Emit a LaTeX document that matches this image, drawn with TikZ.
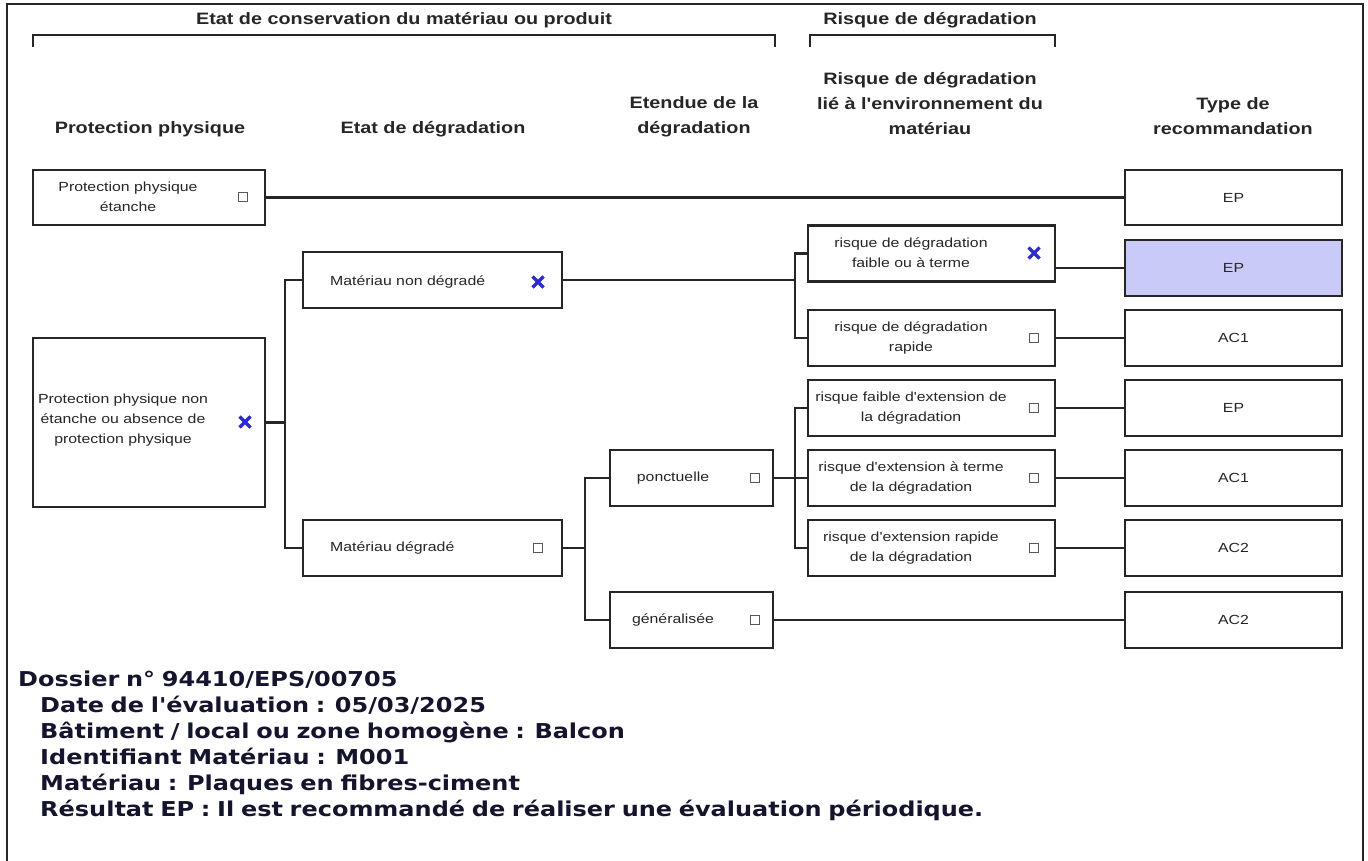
\documentclass[tikz,border=0pt]{standalone}
\usepackage{fontspec}
\setmainfont{Liberation Sans}
\newfontfamily\boxfont{Liberation Sans}[FakeStretch=1.2]
\newfontfamily\headfont{Liberation Sans}[FakeStretch=1.2]
\newfontfamily\footfont{DejaVu Sans}[FakeStretch=1.17, WordSpace=0.8]
\definecolor{linec}{HTML}{262626}
\definecolor{xblue}{HTML}{2A2AD8}
\definecolor{sel}{HTML}{CACAF8}
\definecolor{footc}{HTML}{14142E}
\tikzset{
  box/.style={draw=linec, line width=2.4, fill=white, inner sep=0},
  conn/.style={draw=linec, line width=2.4},
  btxt/.style={font=\boxfont\fontsize{13.2}{20}\selectfont, align=center, inner sep=0, text=linec},
  htxt/.style={font=\headfont\bfseries\fontsize{16.5}{25}\selectfont, align=center, inner sep=0, text=linec},
  ftxt/.style={font=\footfont\bfseries\fontsize{20.5}{26}\selectfont, anchor=base west, inner sep=0, text=footc},
  cbox/.style={draw=black!65, line width=1.5, minimum size=9, inner sep=0},
  xm/.pic={\draw[xblue, line width=3.2] (-5.5,-5.5)--(5.5,5.5) (-5.5,5.5)--(5.5,-5.5);}
}
\begin{document}
\begin{tikzpicture}[x=1pt,y=-1pt]
\useasboundingbox (0,0) rectangle (1368,861);
% frame
\draw[linec, line width=2.2] (7,861)--(7,4)--(1363,4)--(1363,861);
% brackets
\node[htxt] (t1) at (404,20) {Etat de conservation du matériau ou produit};
\node[htxt] (t2) at (930,20) {Risque de dégradation};
\draw[conn] (33,47)--(33,35)--(775,35)--(775,47);
\draw[conn] (810,47)--(810,35)--(1055,35)--(1055,47);
% column headers
\node[htxt] (h1) at (150,129) {Protection physique};
\node[htxt] (h2) at (433,129) {Etat de dégradation};
\node[htxt] (h3) at (694,116.5) {Etendue de la\\dégradation};
\node[htxt] (h4) at (930,104) {Risque de dégradation\\lié à l'environnement du\\matériau};
\node[htxt] (h5) at (1233,116.5) {Type de\\recommandation};
% boxes
\node[box, minimum width=232, minimum height=55] (ppe) at (149,197.5) {};
\node[box, minimum width=232, minimum height=169] (ppne) at (149,422.5) {};
\node[box, minimum width=259, minimum height=56] (mnd) at (432.5,280) {};
\node[box, minimum width=259, minimum height=56] (md) at (432.5,548) {};
\node[box, minimum width=163, minimum height=56] (pon) at (691.5,478) {};
\node[box, minimum width=163, minimum height=56] (gen) at (691.5,620) {};
\node[box, minimum width=247, minimum height=56] (r1) at (931.5,253.5) {};
\node[box, minimum width=247, minimum height=56] (r2) at (931.5,338) {};
\node[box, minimum width=247, minimum height=56] (r3) at (931.5,408) {};
\node[box, minimum width=247, minimum height=56] (r4) at (931.5,478) {};
\node[box, minimum width=247, minimum height=56] (r5) at (931.5,548) {};
\node[box, minimum width=217, minimum height=55] (ep1) at (1233.5,197.5) {};
\node[box, minimum width=217, minimum height=56, fill=sel] (ep2) at (1233.5,268) {};
\node[box, minimum width=217, minimum height=56] (ac1) at (1233.5,338) {};
\node[box, minimum width=217, minimum height=56] (ep3) at (1233.5,408) {};
\node[box, minimum width=217, minimum height=56] (ac1b) at (1233.5,478) {};
\node[box, minimum width=217, minimum height=56] (ac2) at (1233.5,548) {};
\node[box, minimum width=217, minimum height=56] (ac2b) at (1233.5,620) {};
% box texts
\node[btxt] (tppe) at (128,197) {Protection physique\\étanche};
\node[btxt] (tppne) at (123,420) {Protection physique non\\étanche ou absence de\\protection physique};
\node[btxt, anchor=west] (tmnd) at (330,282) {Matériau non dégradé};
\node[btxt, anchor=west] (tmd) at (330,548) {Matériau dégradé};
\node[btxt] (tpon) at (673,478) {ponctuelle};
\node[btxt] (tgen) at (673,620) {généralisée};
\node[btxt] (tr1) at (911,253) {risque de dégradation\\faible ou à terme};
\node[btxt] (tr2) at (911,338) {risque de dégradation\\rapide};
\node[btxt] (tr3) at (911,408) {risque faible d'extension de\\la dégradation};
\node[btxt] (tr4) at (911,478) {risque d'extension à terme\\de la dégradation};
\node[btxt] (tr5) at (911,548) {risque d'extension rapide\\de la dégradation};
\node[btxt] (tep1) at (1233.5,197.5) {EP};
\node[btxt] (tep2) at (1233.5,268) {EP};
\node[btxt] (tac1) at (1233.5,338) {AC1};
\node[btxt] (tep3) at (1233.5,408) {EP};
\node[btxt] (tac1b) at (1233.5,478) {AC1};
\node[btxt] (tac2) at (1233.5,548) {AC2};
\node[btxt] (tac2b) at (1233.5,620) {AC2};
% checkboxes and marks
\node[cbox] (c1) at (243,197) {};
\node[cbox] (c2) at (538,548) {};
\node[cbox] (c3) at (755,478) {};
\node[cbox] (c4) at (755,620) {};
\node[cbox] (c5) at (1034,338) {};
\node[cbox] (c6) at (1034,408) {};
\node[cbox] (c7) at (1034,478) {};
\node[cbox] (c8) at (1034,548) {};
\pic at (245,422) {xm};
\pic at (538,282) {xm};
\pic at (1034,253) {xm};
% junctions
\coordinate (j1) at (285,422.5);
\coordinate (j2) at (795,280);
\coordinate (j3) at (585,548);
\coordinate (j4) at (795,478);
% connectors
\draw[conn] (ppe.east) -- (ep1.west);
\draw[conn] (ppne.east) -- (j1);
\draw[conn] (mnd.west) -| (j1);
\draw[conn] (md.west) -| (j1);
\draw[conn] (mnd.east) -- (j2);
\draw[conn] (r1.west) -| (j2);
\draw[conn] (r2.west) -| (j2);
\draw[conn] (r1.east |- ep2.west) -- (ep2.west);
\draw[conn] (r2.east) -- (ac1.west);
\draw[conn] (md.east) -- (j3);
\draw[conn] (pon.west) -| (j3);
\draw[conn] (gen.west) -| (j3);
\draw[conn] (pon.east) -- (j4);
\draw[conn] (r3.west) -| (j4);
\draw[conn] (r4.west) -| (j4);
\draw[conn] (r5.west) -| (j4);
\draw[conn] (r3.east) -- (ep3.west);
\draw[conn] (r4.east) -- (ac1b.west);
\draw[conn] (r5.east) -- (ac2.west);
\draw[conn] (gen.east) -- (ac2b.west);
% footer
\node[ftxt] (f1) at (18,686) {Dossier n° 94410/EPS/00705};
\node[ftxt] (f2) at (40,712) {Date de l'évaluation : 05/03/2025};
\node[ftxt] (f3) at (40,738) {Bâtiment / local ou zone homogène : Balcon};
\node[ftxt] (f4) at (40,764) {Identifiant Matériau : M001};
\node[ftxt] (f5) at (40,790) {Matériau : Plaques en fibres-ciment};
\node[ftxt] (f6) at (40,816) {Résultat EP : Il est recommandé de réaliser une évaluation périodique.};
\end{tikzpicture}
\end{document}
